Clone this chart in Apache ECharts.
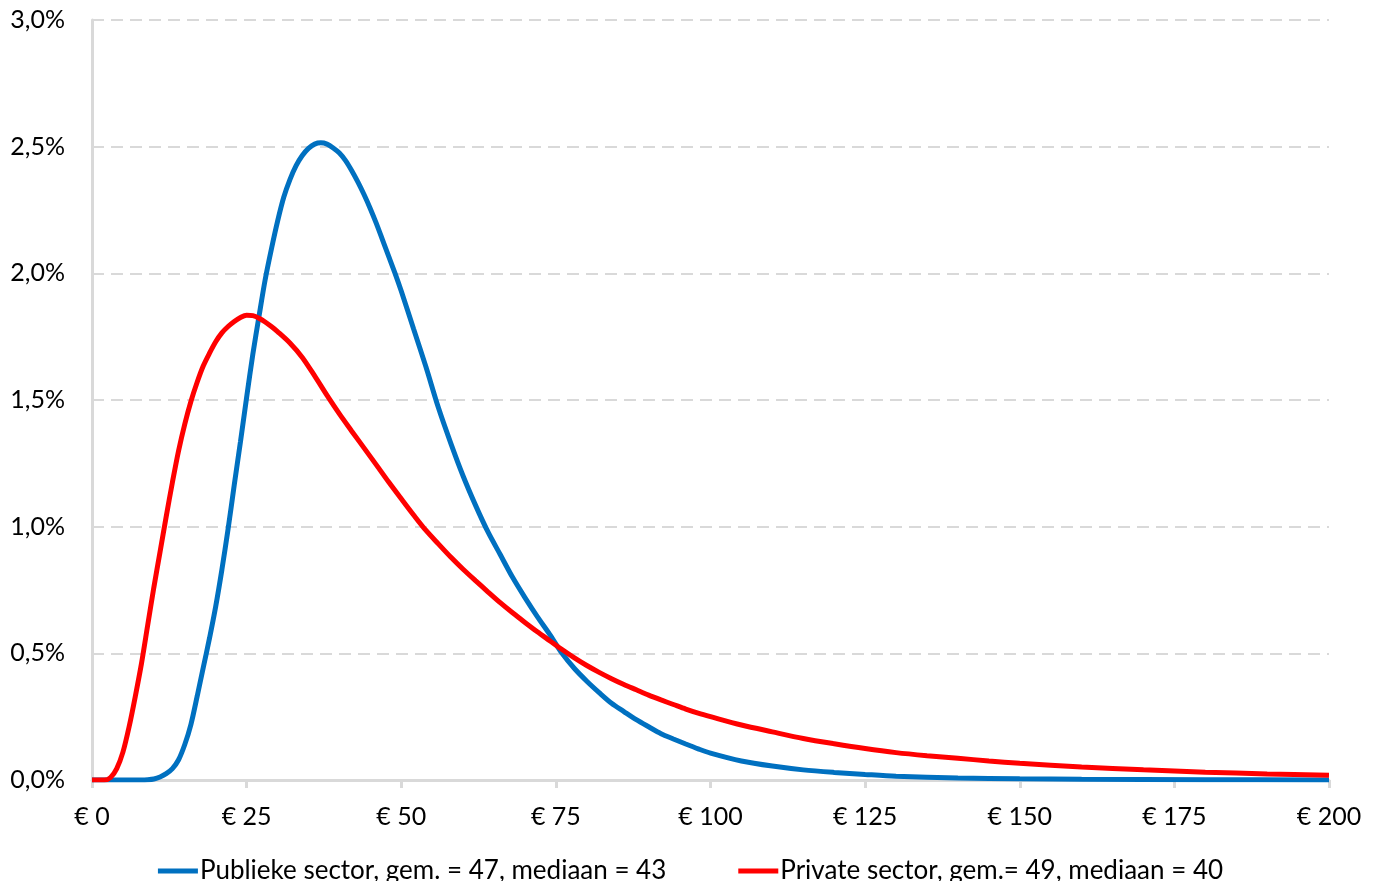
<!DOCTYPE html>
<html>
<head>
<meta charset="utf-8">
<script src="https://cdn.jsdelivr.net/npm/echarts@6/dist/echarts.min.js"></script>
<style>
  html, body { margin: 0; padding: 0; background: #fff; }
  #chart { width: 1381px; height: 881px; }
</style>
</head>
<body>
<div id="chart"></div>
<script>
// Amount in euro (x) and share in percent (y)
const publiekX = [0, 8, 9, 10, 11, 12, 13, 14, 15, 16, 17, 18, 19, 20, 21, 22, 23, 24, 25, 26, 27, 28, 29, 30,
  31, 32, 33, 34, 35, 36, 37, 38, 39, 40, 41, 42, 43, 44, 45, 46, 47, 48, 49, 50, 52, 54, 56, 58, 60,
  62, 64, 66, 68, 70, 72, 74, 76, 78, 80, 82, 84, 86, 88, 90, 92, 94, 96, 98, 100, 105, 110, 115, 120, 125,
  130, 140, 150, 160, 180, 200];
const publiekY = [0, 0, 0.001, 0.004, 0.012, 0.025, 0.045, 0.08, 0.14, 0.22, 0.33, 0.445, 0.56, 0.685, 0.83, 0.99, 1.165, 1.335, 1.51, 1.68, 1.83, 1.975, 2.095, 2.205,
  2.30, 2.37, 2.425, 2.465, 2.493, 2.51, 2.515, 2.51, 2.495, 2.475, 2.445, 2.405, 2.36, 2.31, 2.255, 2.195, 2.13, 2.065, 2.0, 1.93, 1.78, 1.63, 1.47, 1.33, 1.20,
  1.085, 0.98, 0.89, 0.80, 0.72, 0.645, 0.575, 0.50, 0.44, 0.39, 0.345, 0.303, 0.27, 0.238, 0.21, 0.183, 0.162, 0.142, 0.123, 0.106, 0.075, 0.055, 0.04, 0.03, 0.022,
  0.015, 0.008, 0.005, 0.003, 0.001, 0];

const privateX = [0, 2, 3, 4, 5, 6, 7, 8, 9, 10, 11, 12, 13, 14, 15, 16, 17, 18, 19, 20, 21, 22, 23, 24, 25, 26, 27, 28, 29, 30,
  32, 34, 36, 38, 40, 42, 44, 46, 48, 50, 52, 54, 56, 58, 60, 62, 64, 66, 68, 70, 72, 74, 76, 78, 80, 82, 84, 86, 88,
  90, 92, 94, 96, 98, 100, 105, 110, 115, 120, 125, 130, 135, 140, 145, 150, 160, 170, 180, 190, 200];
const privateY = [0, 0, 0.01, 0.045, 0.11, 0.21, 0.33, 0.46, 0.61, 0.76, 0.90, 1.04, 1.175, 1.30, 1.405, 1.495, 1.57, 1.635, 1.685, 1.73, 1.765, 1.79, 1.81, 1.826, 1.835, 1.833, 1.823, 1.808, 1.79, 1.77,
  1.725, 1.668, 1.595, 1.518, 1.445, 1.377, 1.31, 1.243, 1.175, 1.11, 1.046, 0.985, 0.932, 0.88, 0.832, 0.787, 0.743, 0.70, 0.66, 0.622, 0.585, 0.55, 0.515, 0.482, 0.452, 0.425, 0.40, 0.377, 0.356,
  0.335, 0.316, 0.298, 0.28, 0.264, 0.25, 0.217, 0.19, 0.164, 0.143, 0.124, 0.108, 0.096, 0.086, 0.075, 0.066, 0.051, 0.04, 0.031, 0.024, 0.019];

const seriesNames = ['Publieke sector, gem. = 47, mediaan = 43', 'Private sector, gem.= 49, mediaan = 40'];
const xTicks = [0, 25, 50, 75, 100, 125, 150, 175, 200];
const yTicks = [0, 0.5, 1.0, 1.5, 2.0, 2.5, 3.0];

const FONT = 'Lato';
const pairs = (xs, ys) => xs.map((x, i) => [x, ys[i]]);

const chart = echarts.init(document.getElementById('chart'), null, { renderer: 'canvas' });
chart.setOption({
  animation: false,
  backgroundColor: '#ffffff',
  grid: { left: 92, right: 52, top: 20, bottom: 101, containLabel: false },
  legend: {
    data: seriesNames,
    left: 'center',
    top: 852,
    icon: 'rect',
    itemWidth: 40,
    itemHeight: 5,
    itemGap: 72,
    textStyle: { fontFamily: FONT, fontSize: 26, color: '#000', lineHeight: 28, padding: [0, 0, 0, -3] }
  },
  xAxis: {
    type: 'value',
    min: xTicks[0],
    max: xTicks[xTicks.length - 1],
    interval: 25,
    axisLine: { show: true, lineStyle: { color: '#d9d9d9', width: 3 } },
    axisTick: { show: true, length: 8, lineStyle: { color: '#d9d9d9', width: 3 } },
    splitLine: { show: false },
    axisLabel: {
      margin: 24,
      fontFamily: FONT, fontSize: 25, color: '#000',
      formatter: v => '€ ' + v
    }
  },
  yAxis: {
    type: 'value',
    min: yTicks[0],
    max: yTicks[yTicks.length - 1],
    interval: 0.5,
    axisLine: { show: true, lineStyle: { color: '#d9d9d9', width: 3 } },
    axisTick: { show: false },
    splitLine: { show: true, lineStyle: { color: '#d9d9d9', width: 2, type: [12, 7] } },
    axisLabel: {
      margin: 27,
      fontFamily: FONT, fontSize: 25, color: '#000',
      formatter: v => v.toFixed(1).replace('.', ',') + '%'
    }
  },
  series: [
    {
      name: seriesNames[0],
      type: 'line',
      data: pairs(publiekX, publiekY),
      showSymbol: false,
      smooth: 0.3,
      lineStyle: { color: '#0070c0', width: 5 },
      itemStyle: { color: '#0070c0' },
      z: 3
    },
    {
      name: seriesNames[1],
      type: 'line',
      data: pairs(privateX, privateY),
      showSymbol: false,
      smooth: 0.3,
      lineStyle: { color: '#ff0000', width: 5 },
      itemStyle: { color: '#ff0000' },
      z: 4
    }
  ]
});
</script>
</body>
</html>
